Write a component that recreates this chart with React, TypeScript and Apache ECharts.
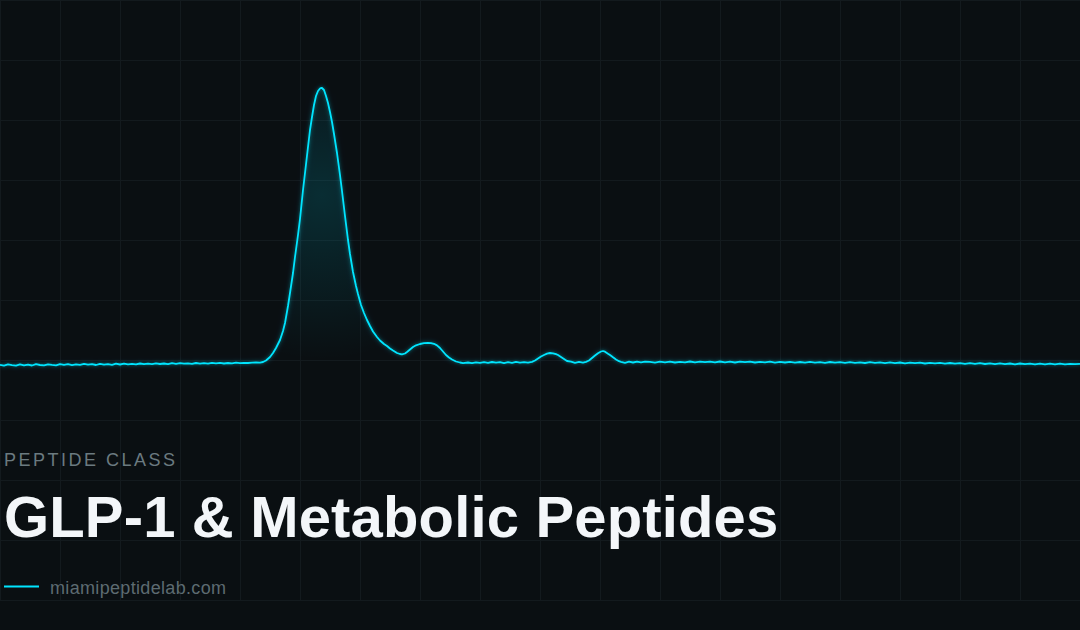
import * as echarts from "echarts";
import { useEffect, useRef } from "react";

const kicker = "PEPTIDE CLASS";
const title = "GLP-1 & Metabolic Peptides";
const site = "miamipeptidelab.com";

const baselineX = [
  0, 4, 8, 12, 16, 20, 24, 28, 32, 36, 40, 44, 48, 52, 56, 60, 64, 68, 72, 76, 80, 84, 88, 92, 96, 100, 104, 108, 112,
  116, 120, 124, 128, 132, 136, 140, 144, 148, 152, 156, 160, 164, 168, 172, 176, 180, 184, 188, 192, 196, 200, 204,
  208, 212, 216, 220, 224, 228, 232, 236, 240, 244, 248, 252, 256, 260,
];
const baselineSignal = [
  235.2, 234.4, 235.6, 234.9, 234.3, 235.7, 234.6, 235.4, 234.5, 235.8, 235.0, 234.6, 235.7, 235.1, 234.7, 235.9, 235.2,
  235.8, 234.9, 235.6, 235.2, 236.1, 235.3, 235.9, 235.0, 236.2, 235.4, 235.9, 235.2, 236.3, 235.5, 236.4, 235.6, 236.2,
  235.7, 236.5, 235.8, 236.4, 235.9, 236.7, 236.0, 236.5, 235.9, 236.8, 236.2, 236.9, 236.3, 236.7, 236.1, 237.0, 236.4,
  236.9, 236.3, 237.1, 236.6, 237.2, 236.5, 237.0, 236.7, 237.3, 236.8, 237.1, 237.0, 237.4, 237.5, 237.4,
];

const peakX = [
  263, 266, 270, 273, 276, 278, 280, 283, 285, 288, 290, 293, 295, 298, 300, 303, 305, 308, 310, 312, 314, 316, 318,
  320, 321, 322, 324, 326, 328, 330, 332, 334, 337, 340, 342, 345, 348, 350, 353, 356, 358, 361, 364, 367, 370, 373,
  377, 380, 384, 387, 390, 393, 397, 400, 402, 405, 407, 410, 413, 416, 420, 424, 428, 431, 434, 437, 440, 443, 446,
  449, 452, 456, 460, 463, 468, 472, 476, 480,
];
const peakSignal = [
  238, 239.5, 243, 247, 252, 256, 260, 269, 277, 294, 307, 327, 343, 365, 381, 410, 427, 453, 470, 483, 495, 504, 509,
  511.5, 512, 512, 510, 504, 497, 488, 478, 466, 447, 425, 409, 384, 360, 346, 328, 314, 306, 295, 287, 280, 274, 268.5,
  263, 259.5, 256, 254, 251.5, 249.5, 247, 246, 245.7, 246.5, 248, 250.5, 253, 254.7, 256, 256.8, 257, 256.8, 256.2,
  254.6, 252, 248.5, 245, 242.5, 240.5, 238.5, 237.5, 236.9, 237.5, 236.8, 237.7, 237.1,
];

const smallPeaksX = [
  484, 488, 492, 496, 500, 504, 508, 512, 516, 520, 524, 528, 532, 535, 538, 541, 544, 547, 550, 553, 556, 558, 561,
  564, 567, 571, 575, 579, 583, 586, 589, 592, 595, 598, 601, 603, 605, 608, 610, 613, 616, 619, 621, 625, 629, 633,
  637, 641, 645,
];
const smallPeaksSignal = [
  237.9, 237.1, 238.0, 237.3, 237.8, 236.9, 237.9, 237.2, 238.1, 237.4, 237.9, 237.3, 238.2, 239.5, 241.5, 243.5, 245,
  246.3, 247, 246.7, 245.8, 245, 243, 241, 239, 238.4, 237.2, 238.1, 237.4, 238.2, 239.5, 242, 244.5, 246.8, 248.5, 249,
  248.3, 246.3, 245, 242.7, 240.5, 238.8, 238.2, 237.2, 238.3, 237.5, 238.4, 237.6, 238.3,
];

const tailX = [
  650, 655, 660, 665, 670, 675, 680, 685, 690, 695, 700, 705, 710, 715, 720, 725, 730, 735, 740, 745, 750, 755, 760,
  765, 770, 775, 780, 785, 790, 795, 800, 805, 810, 815, 820, 825, 830, 835, 840, 845, 850, 855, 860, 865, 870, 875,
  880, 885, 890, 895, 900, 905, 910, 915, 920, 925, 930, 935, 940, 945, 950, 955, 960, 965, 970, 975, 980, 985, 990,
  995, 1000, 1005, 1010, 1015, 1020, 1025, 1030, 1035, 1040, 1045, 1050, 1055, 1060, 1065, 1070, 1075, 1080,
];
const tailSignal = [
  238.2, 237.4, 238.3, 237.6, 238.4, 237.5, 238.2, 237.7, 238.5, 237.6, 238.3, 237.8, 238.4, 237.6, 238.5, 237.7, 238.3,
  237.5, 238.4, 237.8, 238.3, 237.5, 238.2, 237.6, 238.3, 237.4, 238.1, 237.5, 238.2, 237.4, 238.0, 237.3, 238.1, 237.4,
  237.9, 237.2, 238.0, 237.3, 237.8, 237.1, 237.9, 237.2, 237.7, 237.0, 237.8, 237.1, 237.6, 236.9, 237.6, 236.9, 237.5,
  236.7, 237.4, 236.8, 237.3, 236.5, 237.2, 236.6, 237.1, 236.4, 237.0, 236.3, 236.9, 236.2, 236.8, 236.1, 236.8, 236.0,
  236.7, 235.9, 236.6, 235.8, 236.5, 235.7, 236.5, 235.8, 236.4, 235.6, 236.4, 235.7, 236.3, 235.6, 236.4, 235.7, 236.2,
  235.8, 236.1,
];

const traceX = [...baselineX, ...peakX, ...smallPeaksX, ...tailX];
const traceSignal = [...baselineSignal, ...peakSignal, ...smallPeaksSignal, ...tailSignal];
const trace = traceX.map((x, i) => [x, traceSignal[i]]);

export default function App() {
  const chartRef = useRef<HTMLDivElement>(null);

  useEffect(() => {
    document.body.style.margin = "0";
    const chart = echarts.init(chartRef.current, null, { renderer: "svg" });

    const gridLine = { show: true, lineStyle: { color: "#131a1e", width: 1 } };
    const font = "'Liberation Sans', Arial, sans-serif";

    chart.setOption({
      animation: false,
      backgroundColor: "#0a0f12",
      grid: { left: 0, top: 0, width: 1080, height: 600 },
      xAxis: {
        type: "value",
        min: 0,
        max: 1080,
        interval: 60,
        axisLine: { show: false },
        axisTick: { show: false },
        axisLabel: { show: false },
        splitLine: gridLine,
      },
      yAxis: {
        type: "value",
        min: 0,
        max: 600,
        interval: 60,
        axisLine: { show: false },
        axisTick: { show: false },
        axisLabel: { show: false },
        splitLine: gridLine,
      },
      series: [
        // wide soft halo under the trace
        {
          type: "line",
          data: trace,
          showSymbol: false,
          clip: false,
          silent: true,
          lineStyle: {
            color: "rgba(0,229,255,0.04)",
            width: 5,
            shadowColor: "rgba(0,229,255,0.3)",
            shadowBlur: 20,
          },
        },
        {
          type: "line",
          data: trace,
          showSymbol: false,
          clip: false,
          lineStyle: {
            color: "#00e5ff",
            width: 1.8,
            shadowColor: "rgba(0,229,255,0.4)",
            shadowBlur: 4,
          },
          areaStyle: {
            origin: 235,
            color: new echarts.graphic.RadialGradient(
              322,
              195,
              165,
              [
                { offset: 0, color: "rgba(0,229,255,0.2)" },
                { offset: 0.5, color: "rgba(0,229,255,0.1)" },
                { offset: 1, color: "rgba(0,229,255,0)" },
              ],
              true,
            ),
          },
        },
      ],
      graphic: [
        {
          type: "text",
          z: 100,
          x: 4,
          y: 451,
          style: { text: kicker, fill: "#6b7a80", fontSize: 18, fontFamily: font },
        },
        {
          type: "text",
          z: 100,
          x: 4,
          y: 487,
          style: { text: title, fill: "#f3f6f9", fontSize: 58, fontWeight: "bold", fontFamily: font },
        },
        {
          type: "line",
          z: 100,
          shape: { x1: 4, y1: 586.5, x2: 39, y2: 586.5 },
          style: { stroke: "#00e5ff", lineWidth: 2 },
        },
        {
          type: "text",
          z: 100,
          x: 50,
          y: 579,
          style: { text: site, fill: "#5d6b71", fontSize: 18, fontFamily: font },
        },
      ],
    });

    // zrender has no letter spacing, so it goes straight on the svg text
    chartRef.current?.querySelectorAll("text").forEach((node) => {
      if (node.textContent === kicker) node.style.letterSpacing = "2.5px";
      if (node.textContent === title) node.style.letterSpacing = "0.16px";
      if (node.textContent === site) node.style.letterSpacing = "0.33px";
    });

    return () => chart.dispose();
  }, []);

  return <div ref={chartRef} style={{ width: 1080, height: 630 }} />;
}
